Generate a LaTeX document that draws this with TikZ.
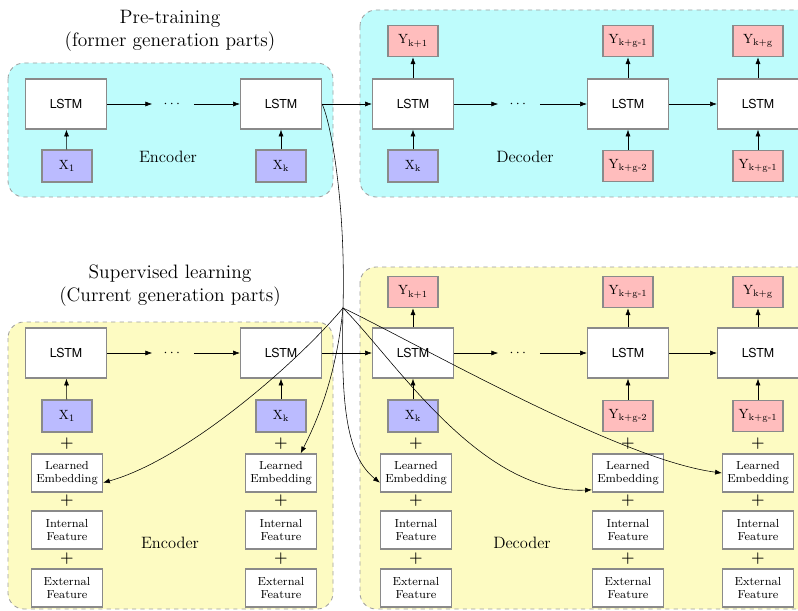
\documentclass[tikz,border=0pt]{standalone}
\usepackage{amsmath}
\usepackage{fontspec}
\setsansfont{TeX Gyre Heros}
\usetikzlibrary{arrows.meta}
\definecolor{preblue}{HTML}{BEFCFC}
\definecolor{supyellow}{HTML}{FDFBC2}
\definecolor{inpurple}{HTML}{BBBBFF}
\definecolor{outpink}{HTML}{FFBDBD}
\definecolor{boxgray}{HTML}{8A8A8A}
\tikzstyle{part-box}=[draw=gray!75,dashed,rounded corners=0.4cm,line width=0.6pt]
\tikzstyle{lstm-node}=[fill=white,draw=boxgray,line width=1pt,minimum width=2.02cm,minimum height=1.25cm,font=\sffamily\fontsize{8.8}{10}\selectfont]
\tikzstyle{input-node}=[fill=inpurple,draw=boxgray,line width=1pt,minimum width=1.25cm,minimum height=0.8cm,inner sep=1pt,font=\fontsize{9.5}{10}\selectfont]
\tikzstyle{output-node}=[fill=outpink,draw=boxgray,line width=1pt,minimum width=1.25cm,minimum height=0.78cm,inner sep=1pt,font=\fontsize{9.5}{10}\selectfont]
\tikzstyle{feature-node}=[fill=white,draw=boxgray,line width=1pt,minimum width=1.77cm,minimum height=0.95cm,inner sep=1pt,align=center,font=\fontsize{8.3}{9.5}\selectfont]
\tikzstyle{plus-node}=[inner sep=0pt,font=\fontsize{11}{11}\selectfont\bfseries]
\tikzstyle{dots-node}=[inner sep=0pt,minimum width=1.03cm,minimum height=0.4cm]
\tikzstyle{title-node}=[align=center,font=\fontsize{13.8}{16.3}\selectfont]
\tikzstyle{label-node}=[font=\fontsize{11.7}{13}\selectfont]

\begin{document}
\begin{tikzpicture}[x=0.025cm,y=-0.025cm]
    \useasboundingbox (0,0) rectangle (798,611);
    % coloured parts
    \begin{scope}
        \clip (0,0) rectangle (798,611);
        \draw[part-box,fill=preblue] (8,63) rectangle (333,197);
        \draw[part-box,fill=preblue] (360,10) rectangle (830,197);
        \draw[part-box,fill=supyellow] (8,322) rectangle (333,609);
        \draw[part-box,fill=supyellow] (360,267) rectangle (830,609);
    \end{scope}

    \node[title-node] at (170,31) (pre-title) {Pre-training\\(former generation parts)};
    \node[title-node] at (170,286) (sup-title) {Supervised learning\\(Current generation parts)};

    % pre-training encoder
    \node[lstm-node] at (66,104) (pe1) {LSTM};
    \node[dots-node] at (173,104) (pe-dots) {$\cdots$};
    \node[lstm-node] at (281,104) (pek) {LSTM};
    \node[input-node] at (67,166) (px1) {$\mathrm{X}_1$};
    \node[input-node] at (281,166) (pxk) {$\mathrm{X}_\mathrm{k}$};
    \node[label-node] at (168,157) (pe-label) {Encoder};

    % pre-training decoder
    \node[lstm-node] at (413,104) (pd1) {LSTM};
    \node[dots-node] at (519,104) (pd-dots) {$\cdots$};
    \node[lstm-node] at (628,104) (pd2) {LSTM};
    \node[lstm-node] at (758,104) (pd3) {LSTM};
    \node[input-node] at (413,166) (pdx) {$\mathrm{X}_\mathrm{k}$};
    \node[output-node] at (628,166) (pdi2) {$\mathrm{Y}_\text{k+g-2}$};
    \node[output-node] at (758,166) (pdi3) {$\mathrm{Y}_\text{k+g-1}$};
    \node[output-node] at (413,41) (pdo1) {$\mathrm{Y}_\text{k+1}$};
    \node[output-node] at (628,41) (pdo2) {$\mathrm{Y}_\text{k+g-1}$};
    \node[output-node] at (758,41) (pdo3) {$\mathrm{Y}_\text{k+g}$};
    \node[label-node] at (525,157) (pd-label) {Decoder};

    % supervised encoder
    \node[lstm-node] at (66,353) (se1) {LSTM};
    \node[dots-node] at (173,353) (se-dots) {$\cdots$};
    \node[lstm-node] at (281,353) (sek) {LSTM};
    \node[input-node] at (67,416) (sx1) {$\mathrm{X}_1$};
    \node[input-node] at (281,416) (sxk) {$\mathrm{X}_\mathrm{k}$};
    \node[label-node] at (170,543) (se-label) {Encoder};

    % supervised decoder
    \node[lstm-node] at (413,353) (sd1) {LSTM};
    \node[dots-node] at (519,353) (sd-dots) {$\cdots$};
    \node[lstm-node] at (628,353) (sd2) {LSTM};
    \node[lstm-node] at (758,353) (sd3) {LSTM};
    \node[input-node] at (413,416) (sdx) {$\mathrm{X}_\mathrm{k}$};
    \node[output-node] at (628,416) (sdi2) {$\mathrm{Y}_\text{k+g-2}$};
    \node[output-node] at (758,416) (sdi3) {$\mathrm{Y}_\text{k+g-1}$};
    \node[output-node] at (413,292) (sdo1) {$\mathrm{Y}_\text{k+1}$};
    \node[output-node] at (628,292) (sdo2) {$\mathrm{Y}_\text{k+g-1}$};
    \node[output-node] at (758,292) (sdo3) {$\mathrm{Y}_\text{k+g}$};
    \node[label-node] at (522,543) (sd-label) {Decoder};

    % feature stacks
    \foreach \c/\x in {se1/67, sek/281, sd1/416, sd2/628, sd3/758}{
        \node[plus-node] at (\x,444) (\c-p1) {+};
        \node[feature-node] at (\x,473) (\c-le) {Learned\\Embedding};
        \node[plus-node] at (\x,501) (\c-p2) {+};
        \node[feature-node] at (\x,530) (\c-if) {Internal\\Feature};
        \node[plus-node] at (\x,559) (\c-p3) {+};
        \node[feature-node] at (\x,588) (\c-ef) {External\\Feature};
    }

    \foreach \a/\b in {px1/pe1, pxk/pek, pe1/pe-dots, pe-dots/pek, pek/pd1,
                       pdx/pd1, pdi2/pd2, pdi3/pd3, pd1/pd-dots, pd-dots/pd2, pd2/pd3,
                       pd1/pdo1, pd2/pdo2, pd3/pdo3,
                       sx1/se1, sxk/sek, se1/se-dots, se-dots/sek, sek/sd1,
                       sdx/sd1, sdi2/sd2, sdi3/sd3, sd1/sd-dots, sd-dots/sd2, sd2/sd3,
                       sd1/sdo1, sd2/sdo2, sd3/sdo3}
        \draw[-Latex] (\a) -- (\b);

    % transfer of the learned embeddings
    \coordinate (hub) at (343,308);
    \draw (pek.east) .. controls (330,120) and (346,200) .. (hub);
    \draw[-Latex] (hub) .. controls (295,365) and (185,460) .. (se1-le.-15);
    \draw[-Latex] (hub) .. controls (336,380) and (315,425) .. (sek-le.45);
    \draw[-Latex] (hub) .. controls (341,400) and (345,455) .. (sd1-le.195);
    \draw[-Latex] (hub) .. controls (395,360) and (480,495) .. (sd2-le.205);
    \draw[-Latex] (hub) .. controls (420,345) and (620,460) .. (sd3-le.west);
\end{tikzpicture}
\end{document}
